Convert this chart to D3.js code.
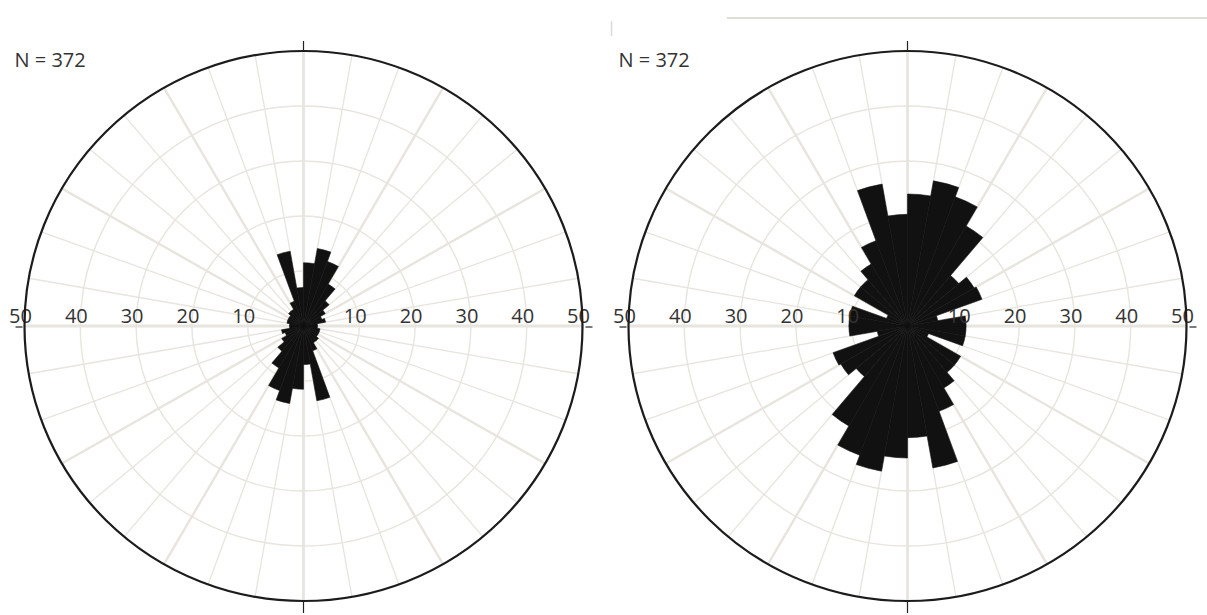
<!DOCTYPE html>
<html>
<head>
<meta charset="utf-8">
<script src="https://cdn.jsdelivr.net/npm/d3@7"></script>
<style>
  html, body { margin: 0; padding: 0; background: #ffffff; }
  svg { display: block; }
</style>
</head>
<body>
<svg id="chart" width="1207" height="615"></svg>
<script>
// Sector start bearings (degrees clockwise from north), 10° sectors
const sectorStart = [0, 10, 20, 30, 40, 50, 60, 70, 80, 90, 100, 110,
                     120, 130, 140, 150, 160, 170, 180, 190, 200, 210, 220, 230,
                     240, 250, 260, 270, 280, 290, 300, 310, 320, 330, 340, 350];

// Petal lengths for the left rose
const leftValues = [11.5, 14.3, 12.5, 8.8, 6.0, 4.5, 3.5, 4.0, 2.5, 2.5, 3.0, 3.0,
                    3.0, 3.5, 3.5, 4.8, 13.8, 7.0, 11.5, 14.3, 12.5, 8.8, 6.0, 4.5,
                    3.5, 4.0, 2.5, 2.5, 3.0, 3.0, 3.0, 3.5, 3.5, 4.8, 13.8, 7.0];

// Petal lengths for the right rose
const rightValues = [24.0, 26.8, 25.0, 21.0, 12.0, 13.8, 14.2, 5.5, 10.5, 10.5, 10.5, 4.0,
                     11.0, 11.0, 13.0, 16.5, 26.2, 20.3, 24.0, 26.8, 25.0, 21.0, 12.0, 13.8,
                     14.2, 5.5, 10.5, 10.5, 10.5, 4.0, 11.0, 11.0, 13.0, 16.5, 26.2, 20.3];

// Radial axis tick labels
const ringTicks = [10, 20, 30, 40, 50];
const sampleLabel = "N = 372";

const svg = d3.select("#chart");
const rx = 279, ry = 275;           // outer circle radii (slightly flattened)
const r = d3.scaleLinear().domain([0, 50]).range([0, rx]);
const gridColor = "#e8e4de";
const toRad = d => d * Math.PI / 180;

function drawRose(cx, cy, values) {
  const g = svg.append("g").attr("transform", `translate(${cx},${cy})`);
  const plot = g.append("g").attr("transform", `scale(1,${ry / rx})`);

  // concentric rings
  plot.selectAll("circle.ring")
    .data(ringTicks.slice(0, -1))
    .join("circle")
    .attr("class", "ring")
    .attr("r", d => r(d))
    .attr("fill", "none")
    .attr("stroke", gridColor)
    .attr("stroke-width", 1.4);

  // spokes every 10°, heavier every 30°
  plot.selectAll("line.spoke")
    .data(sectorStart)
    .join("line")
    .attr("class", "spoke")
    .attr("x1", 0).attr("y1", 0)
    .attr("x2", d => r(50) * Math.sin(toRad(d)))
    .attr("y2", d => -r(50) * Math.cos(toRad(d)))
    .attr("stroke", gridColor)
    .attr("stroke-width", d => d % 90 === 0 ? 2.8 : (d % 30 === 0 ? 2.4 : 1.3));

  // tick labels along the east-west axis
  const lab = g.append("g")
    .attr("font-family", "'Open Sans', 'Segoe UI', sans-serif")
    .attr("font-size", 20)
    .attr("fill", "#333")
    .attr("text-anchor", "middle");
  ringTicks.forEach(v => {
    lab.append("text").attr("x", -r(v) - 4).attr("y", -3).text(v);
    lab.append("text").attr("x", r(v) - 4).attr("y", -3).text(v);
  });

  // petals
  const arc = d3.arc()
    .innerRadius(0)
    .outerRadius(d => r(d.v))
    .startAngle(d => toRad(d.a))
    .endAngle(d => toRad(d.a + 10));
  plot.selectAll("path.petal")
    .data(sectorStart.map((a, i) => ({ a, v: values[i] })))
    .join("path")
    .attr("class", "petal")
    .attr("d", arc)
    .attr("fill", "#111")
    .attr("stroke", "#111")
    .attr("stroke-width", 0.6);

  // outer circle
  g.append("ellipse")
    .attr("rx", rx).attr("ry", ry)
    .attr("fill", "none")
    .attr("stroke", "#1c1c1c")
    .attr("stroke-width", 2.2);

  // compass ticks
  const ticks = [
    [0, -ry, 0, -ry - 10],
    [0, ry, 0, ry + 12],
    [-rx - 2, 1, -rx - 9, 1],
    [rx + 3, 1, rx + 10, 1]
  ];
  g.selectAll("line.tick")
    .data(ticks)
    .join("line")
    .attr("class", "tick")
    .attr("x1", d => d[0]).attr("y1", d => d[1])
    .attr("x2", d => d[2]).attr("y2", d => d[3])
    .attr("stroke", "#222")
    .attr("stroke-width", 1.2);

  // sample size
  svg.append("text")
    .attr("x", cx - 289)
    .attr("y", 67)
    .attr("font-family", "'Open Sans', 'Segoe UI', sans-serif")
    .attr("font-size", 20)
    .attr("fill", "#333")
    .text(sampleLabel);
}

drawRose(303.5, 326, leftValues);
drawRose(907.5, 326, rightValues);

// window frame remnants along the top
svg.append("line")
  .attr("x1", 727).attr("y1", 18).attr("x2", 1207).attr("y2", 18)
  .attr("stroke", "#d6d2ca").attr("stroke-width", 1.5);
svg.append("line")
  .attr("x1", 611.5).attr("y1", 21).attr("x2", 611.5).attr("y2", 36)
  .attr("stroke", "#d9d9d9").attr("stroke-width", 1.5);
</script>
</body>
</html>
